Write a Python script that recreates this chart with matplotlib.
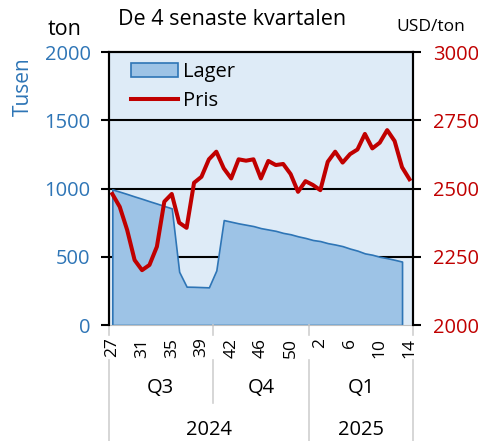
import numpy as np
import matplotlib.pyplot as plt

plt.rcParams['font.family'] = ['Open Sans', 'DejaVu Sans']

# Lager (tusen ton), veckovis
lager = [994, 977, 960, 942, 925, 907, 890, 872, 855, 390,
         281, 280, 278, 276, 400, 769, 757, 745, 735, 725,
         710, 700, 690, 675, 665, 650, 638, 623, 615, 600,
         590, 578, 560, 545, 525, 515, 500, 490, 478, 465]

# Pris (USD/ton), veckovis
pris = [2480, 2433, 2348, 2238, 2201, 2220, 2287, 2452, 2480, 2375,
        2356, 2521, 2543, 2607, 2635, 2574, 2537, 2607, 2602, 2607,
        2537, 2601, 2586, 2590, 2553, 2488, 2527, 2513, 2494, 2598,
        2635, 2595, 2626, 2643, 2700, 2647, 2668, 2714, 2674, 2578,
        2534]

vecko_etiketter = ["27", "31", "35", "39", "42", "46", "50", "2", "6", "10", "14"]
kvartal = ["Q3", "Q4", "Q1"]
kvartal_granser = [-0.5, 13.5, 26.5, 40.5]
ar = ["2024", "2025"]
ar_granser = [-0.5, 26.5, 40.5]

blue = "#2E75B6"
red = "#C00000"

fig = plt.figure(figsize=(4.78, 4.41), dpi=100)
ax = fig.add_axes([0.2272, 0.263, 0.6372, 0.619])
ax.set_facecolor("#DEEBF7")

x_lager = np.arange(len(lager))
x_pris = np.arange(len(pris))

for v in [500, 1000, 1500]:
    ax.axhline(v, color="black", lw=1.5, zorder=0.5)
ax.fill_between(x_lager, lager, 0, facecolor="#9DC3E6", edgecolor=blue,
                lw=1.2, zorder=1, label="Lager")
ax.set_xlim(-0.5, 40.5)
ax.set_ylim(0, 2000)
ax.set_yticks([0, 500, 1000, 1500, 2000])
ax.tick_params(axis="y", colors="black", labelcolor=blue, labelsize=14.5,
               direction="out", length=6, width=1.5, pad=7)

ax.set_xticks(np.arange(0, len(pris), 4))
ax.set_xticklabels(vecko_etiketter, rotation=90, fontsize=12.5)
ax.tick_params(axis="x", length=0, pad=9)

for s in ["left", "right", "top"]:
    ax.spines[s].set_color("black")
    ax.spines[s].set_linewidth(1.5)
ax.spines["bottom"].set_color("#BFBFBF")

ax2 = ax.twinx()
ax2.plot(x_pris, pris, color=red, lw=2.9, label="Pris", solid_joinstyle="round")
ax2.set_ylim(2000, 3000)
ax2.set_yticks([2000, 2250, 2500, 2750, 3000])
ax2.tick_params(axis="y", colors="black", labelcolor=red, labelsize=14.5,
                direction="out", length=6, width=1.5, pad=8)
for s in ["left", "right", "top"]:
    ax2.spines[s].set_color("black")
    ax2.spines[s].set_linewidth(1.5)
ax2.spines["bottom"].set_visible(False)

h1, l1 = ax.get_legend_handles_labels()
h2, l2 = ax2.get_legend_handles_labels()
ax2.legend(h1 + h2, l1 + l2, loc="upper left", bbox_to_anchor=(0.04, 1.0),
           frameon=False, fontsize=14.5, handlelength=2.35, handletextpad=0.25,
           labelspacing=0.42, borderaxespad=0.1)

# kategoriaxel med kvartal och år
tr = ax.get_xaxis_transform()
for g in kvartal_granser:
    bot = -0.425 if g in ar_granser else -0.286
    ax.plot([g, g], [0, -0.037], transform=tr, color="#D0D0D0", lw=1.2, clip_on=False)
    ax.plot([g, g], [-0.128, bot], transform=tr, color="#D0D0D0", lw=1.2, clip_on=False)
for i, q in enumerate(kvartal):
    mid = (kvartal_granser[i] + kvartal_granser[i + 1]) / 2
    ax.text(mid, -0.231, q, transform=tr, ha="center", va="center", fontsize=14.5)
for i, a in enumerate(ar):
    mid = (ar_granser[i] + ar_granser[i + 1]) / 2
    ax.text(mid, -0.385, a, transform=tr, ha="center", va="center", fontsize=14.5)

fig.text(0.485, 0.955, "De 4 senaste kvartalen", ha="center", va="center", fontsize=15.5)
fig.text(0.135, 0.932, "ton", ha="center", va="center", fontsize=15.5)
fig.text(0.902, 0.939, "USD/ton", ha="center", va="center", fontsize=12.5)
fig.text(0.048, 0.803, "Tusen", ha="center", va="center", rotation=90,
         fontsize=15, color=blue)

fig.savefig("out.png", dpi=100)
